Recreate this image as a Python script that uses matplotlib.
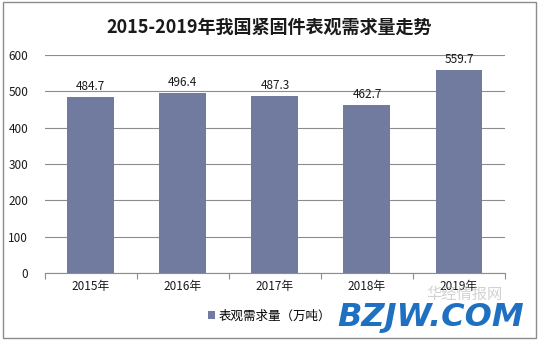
import matplotlib
matplotlib.use('Agg')
import matplotlib.pyplot as plt
from matplotlib.patches import Rectangle

plt.rcParams['font.family'] = ['Noto Sans CJK SC', 'DejaVu Sans']

# data
years = ['2015年', '2016年', '2017年', '2018年', '2019年']
demand = [484.7, 496.4, 487.3, 462.7, 559.7]
yticks = [0, 100, 200, 300, 400, 500, 600]

bar_color = '#717a9f'
grid_color = '#8c8c8c'

fig = plt.figure(figsize=(5.39, 3.40), dpi=100)
ax = fig.add_axes([0.083, 0.197, 0.854, 0.641])

x = range(len(years))
bars = ax.bar(x, demand, width=0.51, color=bar_color, label='表观需求量（万吨）', zorder=3)

for xi, v in zip(x, demand):
    ax.text(xi, v + 11, f'{v:.1f}', ha='center', va='bottom', fontsize=8.5, color='#1a1a1a')

ax.set_ylim(0, 600)
ax.set_xlim(-0.5, len(years) - 0.5)
ax.set_yticks(yticks)
ax.yaxis.grid(True, color=grid_color, linewidth=0.8, zorder=0)
ax.tick_params(axis='y', length=0, labelsize=8.5, pad=12, colors='#1a1a1a')

# x ticks between categories, labels at centers
ax.set_xticks([i - 0.5 for i in range(len(years) + 1)])
ax.set_xticklabels([])
ax.set_xticks(list(x), minor=True)
ax.set_xticklabels(years, minor=True)
ax.tick_params(axis='x', which='major', length=4, color=grid_color, direction='out')
ax.tick_params(axis='x', which='minor', length=0, labelsize=8.5, pad=5, colors='#1a1a1a')

for s in ['top', 'right', 'left']:
    ax.spines[s].set_visible(False)
ax.spines['bottom'].set_color(grid_color)
ax.spines['bottom'].set_linewidth(0.8)

fig.text(0.5, 0.92, '2015-2019年我国紧固件表观需求量走势', ha='center', va='center',
         fontsize=13, fontweight='bold', color='#1a1a1a')

leg = fig.legend(handles=[bars], loc='center', bbox_to_anchor=(0.5, 0.07), frameon=False,
                 fontsize=9, handlelength=0.6, handleheight=0.6, handletextpad=0.3)

# watermark
fig.text(0.79, 0.135, '华经情报网', ha='left', va='center', fontsize=11, color='#b5b5b5', alpha=0.6)
fig.text(0.625, 0.065, 'BZJW.COM', ha='left', va='center', fontsize=23, color='#1f70c1',
         fontweight='bold', style='italic', family='DejaVu Sans')

# outer frame
fig.patches.append(Rectangle((0.006, 0.006), 0.988, 0.988, transform=fig.transFigure,
                             fill=False, edgecolor='#8c8c8c', linewidth=1))

fig.savefig('out.png', dpi=100)
